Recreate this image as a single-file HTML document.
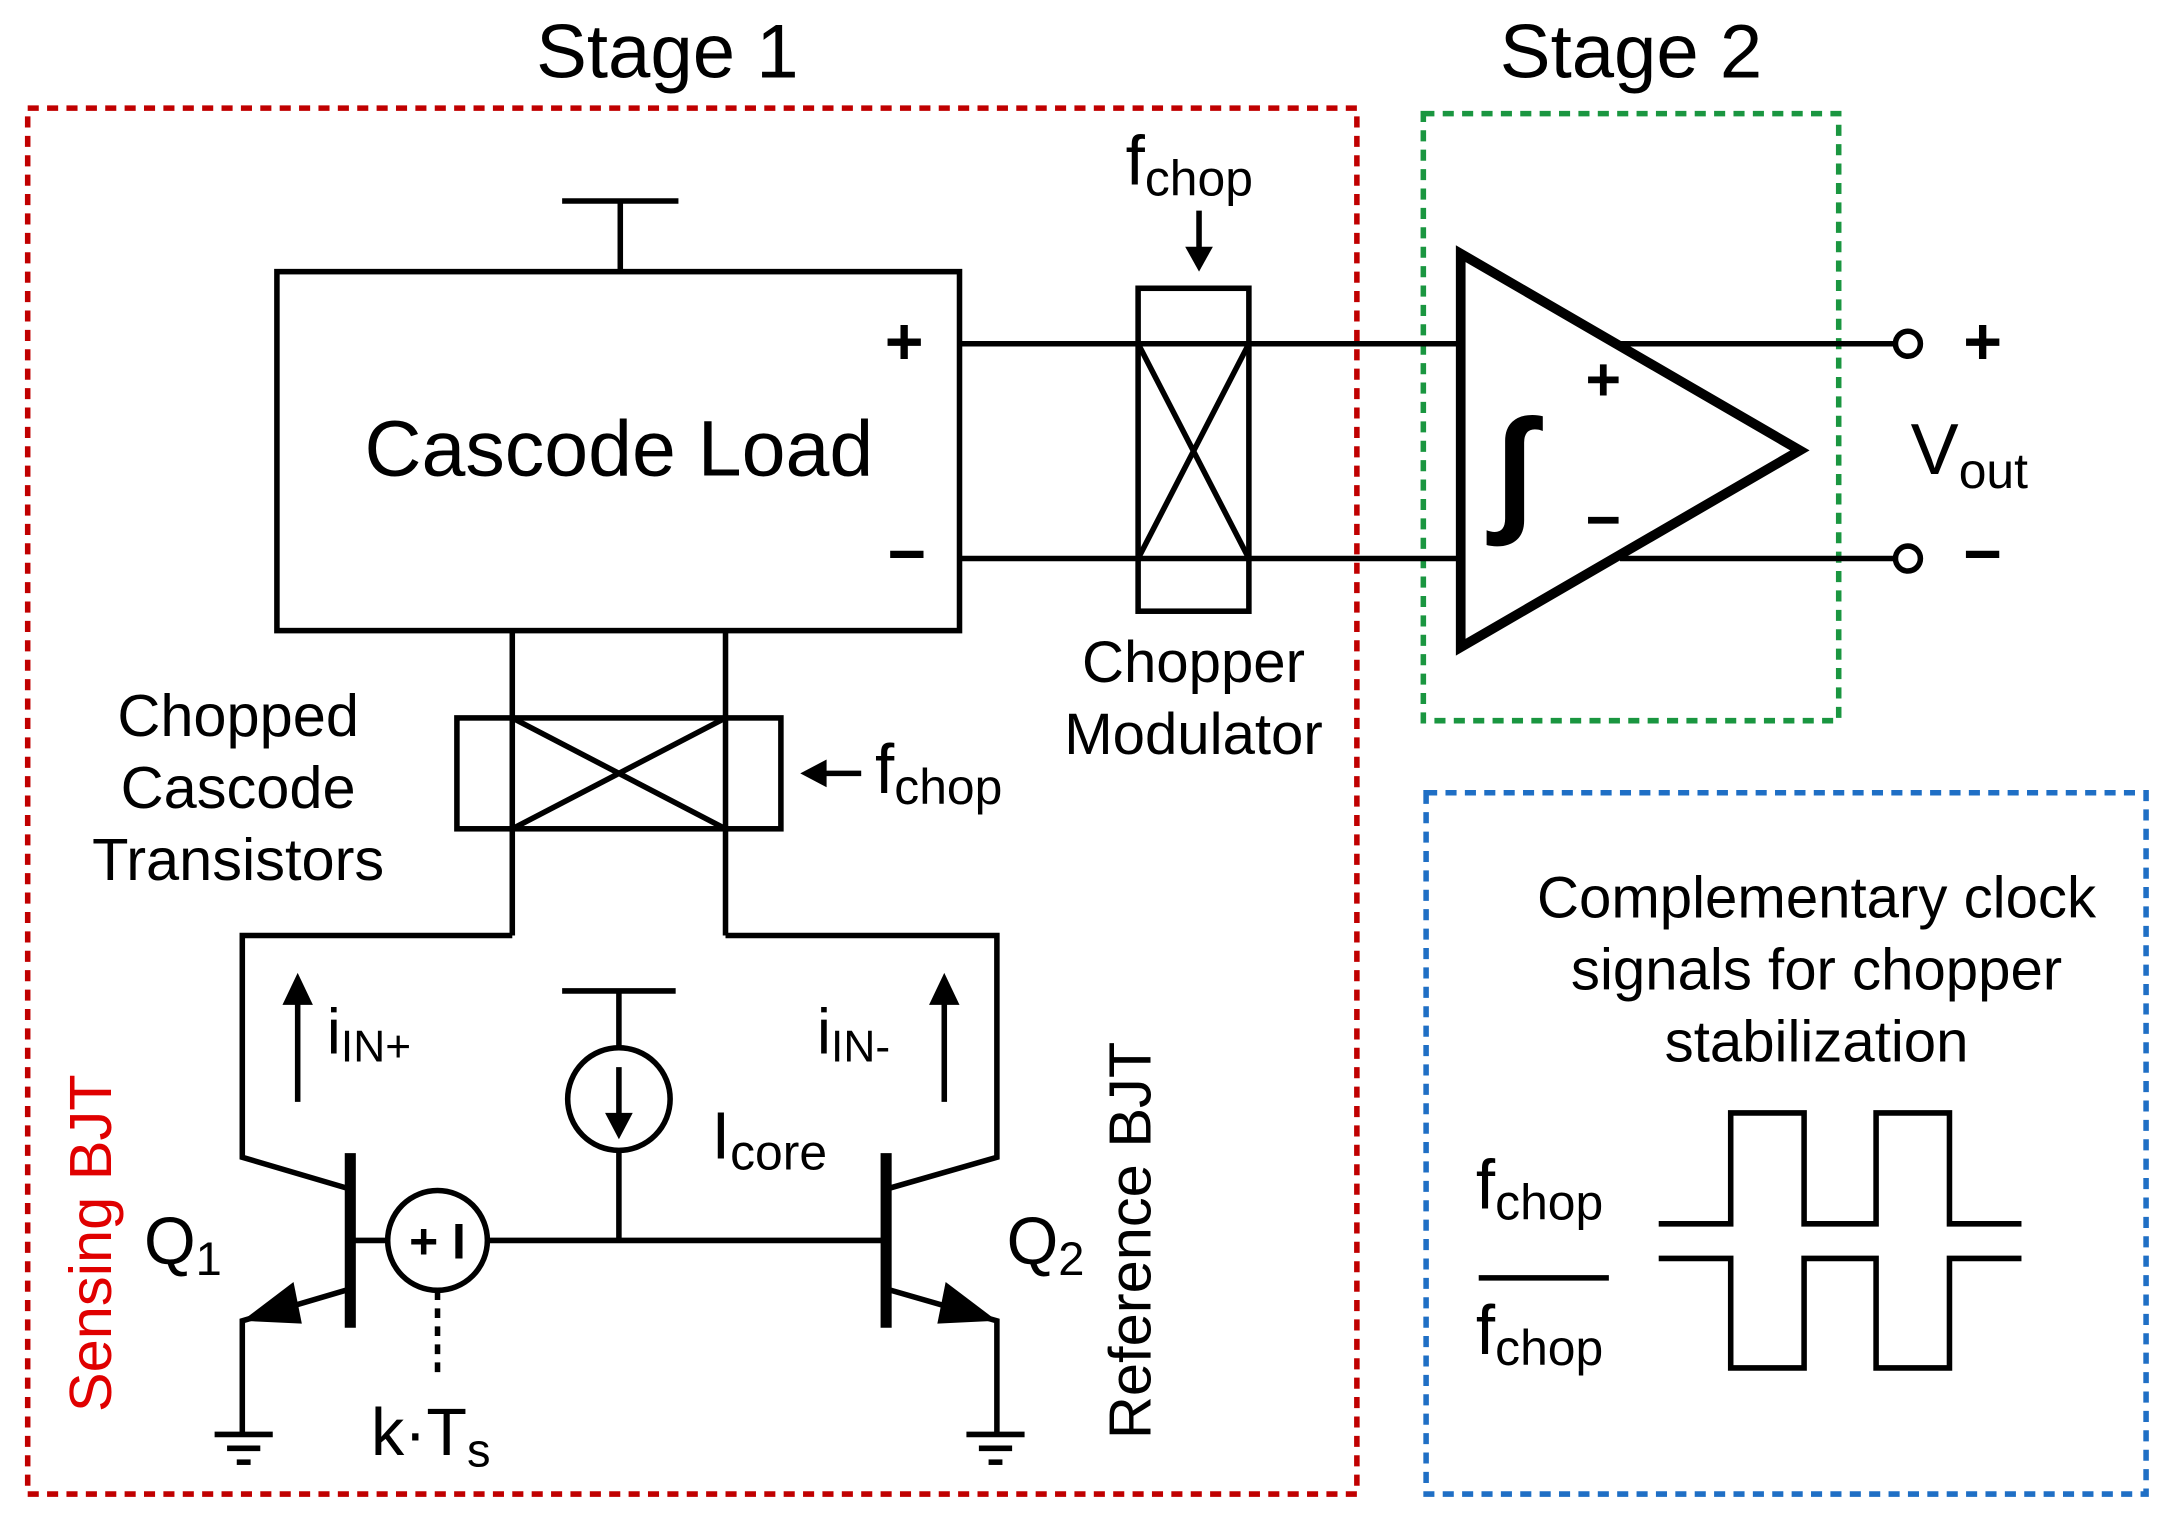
<!DOCTYPE html>
<html><head><meta charset="utf-8"><style>
html,body{margin:0;padding:0;background:#fff;}
svg{display:block}
text{font-family:"Liberation Sans",Arial,sans-serif;fill:#000}
</style></head><body>
<svg width="2171" height="1519" viewBox="0 0 1568 1096" preserveAspectRatio="none" xmlns="http://www.w3.org/2000/svg">
<g stroke-width="4" fill="none" stroke-dasharray="8,6">
<rect x="20" y="78" width="960" height="1000" stroke="#c00000"/>
<rect x="1028" y="82" width="300" height="438" stroke="#1a9640"/>
<rect x="1030" y="572" width="520" height="506" stroke="#1f6fc5"/>
</g>
<text x="482" y="56" font-size="55" text-anchor="middle">Stage 1</text>
<text x="1178" y="56" font-size="55" text-anchor="middle">Stage 2</text>
<g stroke="#000" stroke-width="4" fill="none">
<rect x="200" y="196" width="493" height="259"/>
<line x1="448" y1="145" x2="448" y2="196"/><line x1="406" y1="145" x2="490" y2="145"/>
<line x1="693" y1="248" x2="1055" y2="248"/><line x1="693" y1="403" x2="1055" y2="403"/>
<rect x="822" y="208" width="80" height="233"/>
<line x1="822" y1="248" x2="902" y2="403"/><line x1="902" y1="248" x2="822" y2="403"/>
<line x1="866" y1="152" x2="866" y2="190"/>
<polygon points="1055,183 1055,467 1300,325" stroke-width="7" stroke-linejoin="miter"/>
<line x1="1170" y1="248" x2="1369" y2="248"/><line x1="1170" y1="403" x2="1369" y2="403"/>
<circle cx="1378" cy="248" r="9"/><circle cx="1378" cy="403" r="9"/>
<line x1="370" y1="455" x2="370" y2="675"/><line x1="524" y1="455" x2="524" y2="675"/>
<rect x="330" y="518" width="234" height="80"/>
<line x1="370" y1="518" x2="524" y2="598"/><line x1="524" y1="518" x2="370" y2="598"/>
<polyline points="370,675 175,675 175,835 253,858"/>
<polyline points="524,675 720,675 720,835 640,858"/>
<line x1="253" y1="832" x2="253" y2="958" stroke-width="8"/>
<line x1="640" y1="832" x2="640" y2="958" stroke-width="8"/>
<polyline points="253,930 175,953 175,1035"/>
<polyline points="640,930 720,953 720,1035"/>
<line x1="155" y1="1035" x2="197" y2="1035"/><line x1="164" y1="1045" x2="188" y2="1045"/><line x1="171" y1="1055" x2="181" y2="1055"/>
<line x1="698" y1="1035" x2="740" y2="1035"/><line x1="707" y1="1045" x2="731" y2="1045"/><line x1="714" y1="1055" x2="724" y2="1055"/>
<line x1="253" y1="895" x2="280" y2="895"/><line x1="352" y1="895" x2="640" y2="895"/>
<circle cx="316" cy="895" r="36"/>
<line x1="316" y1="931" x2="316" y2="992" stroke-dasharray="7,6"/>
<circle cx="447" cy="793" r="37"/>
<line x1="447" y1="715" x2="447" y2="756"/><line x1="406" y1="715" x2="488" y2="715"/>
<line x1="447" y1="830" x2="447" y2="895"/>
<line x1="447" y1="770" x2="447" y2="808"/>
<line x1="215" y1="795" x2="215" y2="720"/>
<line x1="682" y1="795" x2="682" y2="720"/>
<line x1="583" y1="558" x2="622" y2="558"/>
<line x1="1068" y1="922" x2="1162" y2="922"/>
<polyline points="1198,883 1250,883 1250,803 1303,803 1303,883 1355,883 1355,803 1408,803 1408,883 1460,883"/>
<polyline points="1198,908 1250,908 1250,987 1303,987 1303,908 1355,908 1355,987 1408,987 1408,908 1460,908"/>
</g>
<g fill="#000">
<polygon points="856,178 876,178 866,196"/>
<polygon points="437,803 457,803 447,822"/>
<polygon points="204,725 226,725 215,702"/>
<polygon points="671,725 693,725 682,702"/>
<polygon points="597,548 597,568 578,558"/>
<polygon points="175,953 212,925 218,955"/>
<polygon points="720,953 683,925 677,955"/>
</g>
<text x="447" y="343" font-size="57" text-anchor="middle">Cascode Load</text>
<text x="653" y="263" font-size="48" font-weight="bold" text-anchor="middle">+</text>
<text x="655" y="416" font-size="48" font-weight="bold" text-anchor="middle">−</text>
<text x="813" y="133" font-size="50">f<tspan font-size="36" dy="8">chop</tspan></text>
<text x="862" y="492" font-size="42" text-anchor="middle">Chopper</text>
<text x="862" y="544" font-size="42" text-anchor="middle">Modulator</text>
<text x="1080" y="372" font-size="100" font-weight="bold">∫</text>
<text x="1158" y="289" font-size="44" font-weight="bold" text-anchor="middle">+</text>
<text x="1158" y="390" font-size="44" font-weight="bold" text-anchor="middle">−</text>
<text x="1432" y="263" font-size="48" font-weight="bold" text-anchor="middle">+</text>
<text x="1432" y="416" font-size="48" font-weight="bold" text-anchor="middle">−</text>
<text x="1380" y="342" font-size="52">V<tspan font-size="36" dy="10">out</tspan></text>
<text x="172" y="531" font-size="43" text-anchor="middle">Chopped</text>
<text x="172" y="583" font-size="43" text-anchor="middle">Cascode</text>
<text x="172" y="635" font-size="43" text-anchor="middle">Transistors</text>
<text x="632" y="572" font-size="50">f<tspan font-size="36" dy="8">chop</tspan></text>
<text x="236" y="760" font-size="46">i<tspan font-size="32" dy="6">IN+</tspan></text>
<text x="590" y="760" font-size="46">i<tspan font-size="32" dy="6">IN-</tspan></text>
<text x="514" y="836" font-size="48">I<tspan font-size="36" dy="8">core</tspan></text>
<text x="104" y="912" font-size="48">Q<tspan font-size="34" dy="8">1</tspan></text>
<text x="727" y="912" font-size="48">Q<tspan font-size="34" dy="8">2</tspan></text>
<text x="316" y="908" font-size="36" font-weight="bold" text-anchor="middle">+ I</text>
<text x="268" y="1050" font-size="48">k·T<tspan font-size="34" dy="8">s</tspan></text>
<text transform="translate(80,897) rotate(-90)" font-size="43" text-anchor="middle" style="fill:#e00000">Sensing BJT</text>
<text transform="translate(831,895) rotate(-90)" font-size="43" text-anchor="middle">Reference BJT</text>
<text x="1312" y="662" font-size="42" text-anchor="middle">Complementary clock</text>
<text x="1312" y="714" font-size="42" text-anchor="middle">signals for chopper</text>
<text x="1312" y="766" font-size="42" text-anchor="middle">stabilization</text>
<text x="1066" y="872" font-size="50">f<tspan font-size="36" dy="8">chop</tspan></text>
<text x="1066" y="977" font-size="50">f<tspan font-size="36" dy="8">chop</tspan></text>
</svg>
</body></html>
